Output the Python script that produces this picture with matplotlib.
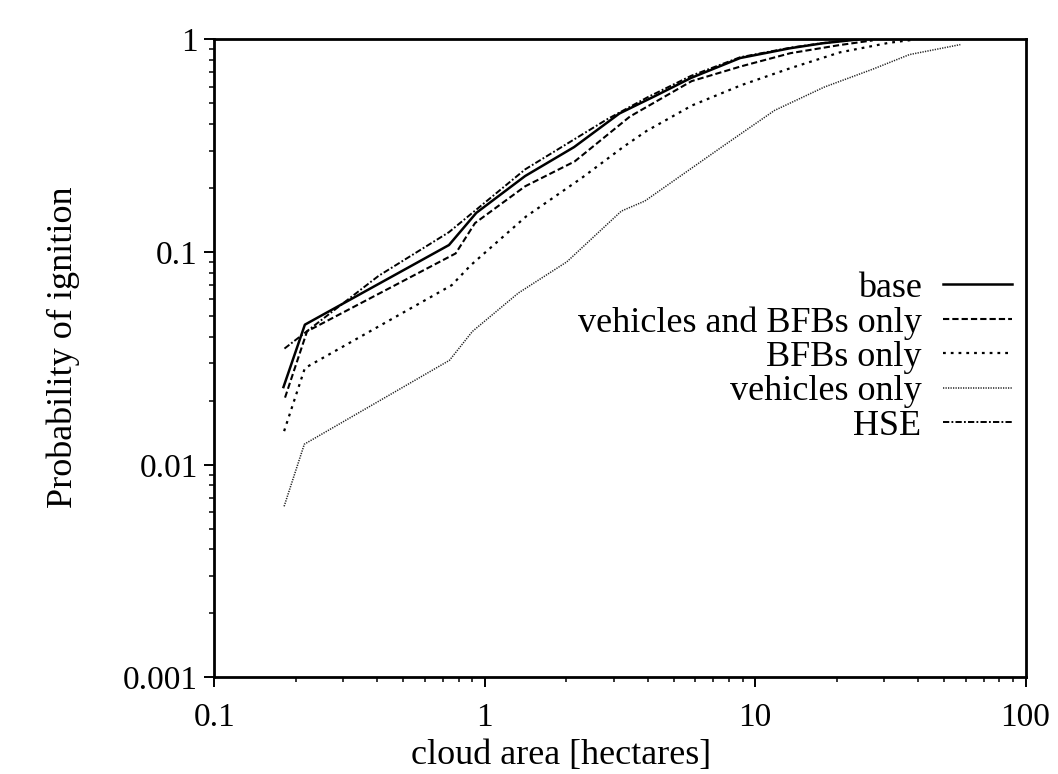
import matplotlib
matplotlib.use("Agg")
import matplotlib.pyplot as plt
from matplotlib.ticker import LogLocator, NullFormatter, FixedLocator, FixedFormatter

plt.rcParams['font.family'] = ['Liberation Serif', 'DejaVu Serif']
plt.rcParams['lines.scale_dashes'] = False

# cloud area [hectares] vs probability of ignition, one pair of arrays per scenario
base_x = [0.180, 0.216, 0.737, 0.93, 1.41, 2.14, 3.15, 4.3, 5.8, 8.8, 13.5, 17.8, 24.0]
base_y = [0.0232, 0.0456, 0.108, 0.153, 0.228, 0.312, 0.449, 0.545, 0.66, 0.818, 0.91, 0.96, 1.0]

veh_bfb_x = [0.1824, 0.22, 0.78, 0.92, 1.41, 2.15, 3.44, 5.82, 8.85, 13.5, 20.5, 27.2]
veh_bfb_y = [0.0207, 0.0424, 0.0986, 0.137, 0.204, 0.267, 0.434, 0.637, 0.747, 0.862, 0.941, 0.99]

bfb_x = [0.181, 0.216, 0.754, 0.889, 1.42, 2.28, 3.26, 3.96, 5.85, 8.89, 13.5, 20.6, 31.3, 38.0]
bfb_y = [0.0144, 0.0285, 0.0699, 0.087, 0.147, 0.223, 0.313, 0.371, 0.49, 0.61, 0.733, 0.87, 0.965, 0.995]

veh_x = [0.181, 0.215, 0.74, 0.90, 1.33, 2.01, 3.2, 3.91, 7.6, 11.8, 18.0, 27.3, 37.2, 57.4]
veh_y = [0.00638, 0.0125, 0.031, 0.0424, 0.0642, 0.090, 0.156, 0.174, 0.315, 0.464, 0.597, 0.726, 0.849, 0.946]

hse_x = [0.1815, 0.405, 0.736, 1.41, 2.82, 4.0, 5.8, 8.8, 13.5, 17.8, 22.0]
hse_y = [0.0352, 0.0774, 0.124, 0.245, 0.42, 0.535, 0.675, 0.825, 0.915, 0.962, 0.99]

labels = ["base", "vehicles and BFBs only", "BFBs only", "vehicles only", "HSE"]

x_ticks = [0.1, 1, 10, 100]
x_tick_labels = ["0.1", "1", "10", "100"]
y_ticks = [0.001, 0.01, 0.1, 1]
y_tick_labels = ["0.001", "0.01", "0.1", "1"]

fig = plt.figure(figsize=(10.58, 7.74), dpi=100)
ax = fig.add_axes([0.2027, 0.1247, 0.7666, 0.8243])
ax.set_xscale('log')
ax.set_yscale('log')
ax.set_xlim(0.1, 100)
ax.set_ylim(0.001, 1)

l1, = ax.plot(base_x, base_y, color='black', lw=1.8, linestyle='-')
l2, = ax.plot(veh_bfb_x, veh_bfb_y, color='black', lw=1.5)
l2.set_dashes((4.5, 2.2))
l3, = ax.plot(bfb_x, bfb_y, color='black', lw=1.6)
l3.set_dashes((2.0, 3.6))
l4, = ax.plot(veh_x, veh_y, color='#222222', lw=1.1)
l4.set_dashes((0.9, 0.9))
l5, = ax.plot(hse_x, hse_y, color='black', lw=1.4)
l5.set_dashes((4.5, 1.6, 1.3, 1.6))

for s in ax.spines.values():
    s.set_linewidth(2.0)

ax.xaxis.set_major_locator(FixedLocator(x_ticks))
ax.xaxis.set_major_formatter(FixedFormatter(x_tick_labels))
ax.yaxis.set_major_locator(FixedLocator(y_ticks))
ax.yaxis.set_major_formatter(FixedFormatter(y_tick_labels))
ax.xaxis.set_minor_locator(LogLocator(base=10, subs=range(2, 10)))
ax.yaxis.set_minor_locator(LogLocator(base=10, subs=range(2, 10)))
ax.xaxis.set_minor_formatter(NullFormatter())
ax.yaxis.set_minor_formatter(NullFormatter())
ax.tick_params(which='major', direction='out', length=7, width=1.4,
               labelsize=24, top=False, right=False)
ax.tick_params(which='minor', direction='out', length=3.6, width=1.1,
               top=False, right=False)
ax.tick_params(axis='y', which='major', pad=5)
ax.tick_params(axis='x', which='major', pad=11)

ax.set_xlabel("cloud area [hectares]", fontsize=26)
ax.xaxis.set_label_coords(0.427, -0.097)
ax.set_ylabel("Probability of ignition", fontsize=26)
ax.yaxis.set_label_coords(-0.166, 0.518)

ax.legend([l1, l2, l3, l4, l5], labels, loc='upper right',
          bbox_to_anchor=(0.983, 0.636), markerfirst=False, frameon=False,
          fontsize=26, handlelength=1.9, handletextpad=0.6,
          labelspacing=0.03, borderpad=0, borderaxespad=0)

fig.savefig("out.png", dpi=100, facecolor='white')
